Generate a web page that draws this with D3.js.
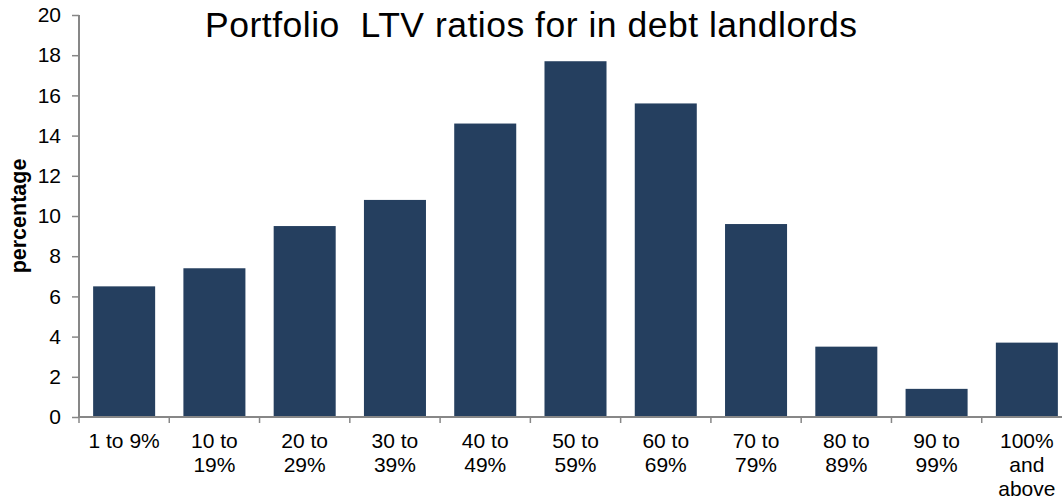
<!DOCTYPE html>
<html>
<head>
<meta charset="utf-8">
<script src="https://cdn.jsdelivr.net/npm/d3@7"></script>
<style>
  html, body { margin: 0; padding: 0; background: #fff; }
  svg { display: block; font-family: "Liberation Sans", Arial, sans-serif; }
</style>
</head>
<body>
<svg id="chart" width="1062" height="500"></svg>
<script>
// LTV bands and share of in-debt landlords in each (percent)
const categories = ["1 to 9%", "10 to 19%", "20 to 29%", "30 to 39%", "40 to 49%",
  "50 to 59%", "60 to 69%", "70 to 79%", "80 to 89%", "90 to 99%", "100% and above"];
const values = [6.5, 7.4, 9.5, 10.8, 14.6, 17.7, 15.6, 9.6, 3.5, 1.4, 3.7];
const tickLines = [["1 to 9%"], ["10 to", "19%"], ["20 to", "29%"], ["30 to", "39%"],
  ["40 to", "49%"], ["50 to", "59%"], ["60 to", "69%"], ["70 to", "79%"],
  ["80 to", "89%"], ["90 to", "99%"], ["100%", "and", "above"]];
const yTicks = [0, 2, 4, 6, 8, 10, 12, 14, 16, 18, 20];
const titleText = "Portfolio  LTV ratios for in debt landlords";
const yLabel = "percentage";

const svg = d3.select("#chart");
const plotLeft = 79, plotRight = 1072, plotTop = 15, plotBottom = 417;
const axisColor = "#878787";
const barColor = "#253f5f";
const tickFont = 21;

const x = d3.scaleBand().domain(categories).range([plotLeft, plotRight])
  .paddingInner(0.313).paddingOuter(0.1565);
const y = d3.scaleLinear().domain([0, 20]).range([plotBottom, plotTop]);

// bars
svg.append("g").selectAll("rect").data(values).join("rect")
  .attr("x", (d, i) => x(categories[i]))
  .attr("y", d => y(d))
  .attr("width", x.bandwidth())
  .attr("height", d => y(0) - y(d))
  .attr("fill", barColor);

// y axis
const yAxis = svg.append("g").attr("transform", `translate(${plotLeft},0)`)
  .call(d3.axisLeft(y).tickValues(yTicks).tickSize(7).tickPadding(11).tickFormat(d3.format("d")));
yAxis.select(".domain").attr("stroke", axisColor).attr("stroke-width", 2)
  .attr("d", `M0,${plotTop}V${plotBottom}`);
yAxis.selectAll(".tick line").attr("stroke", axisColor).attr("stroke-width", 1.5);
yAxis.selectAll(".tick text").attr("font-size", tickFont).attr("fill", "#000")
  .attr("font-family", "Liberation Sans, Arial, sans-serif");

// x axis: line, ticks between categories, and wrapped labels
const xg = svg.append("g");
xg.append("line").attr("x1", plotLeft).attr("x2", plotRight).attr("y1", y(0)).attr("y2", y(0))
  .attr("stroke", axisColor).attr("stroke-width", 2);
const gap = (x.step() - x.bandwidth()) / 2;
const bounds = categories.map(c => x(c) - gap).concat([plotRight]);
xg.selectAll("line.tk").data(bounds).join("line").attr("class", "tk")
  .attr("x1", d => d).attr("x2", d => d)
  .attr("y1", y(0)).attr("y2", y(0) + 6)
  .attr("stroke", axisColor).attr("stroke-width", 1.5);
const lbl = xg.selectAll("text.lb").data(categories).join("text").attr("class", "lb")
  .attr("x", d => x(d) + x.bandwidth() / 2)
  .attr("y", 448)
  .attr("text-anchor", "middle")
  .attr("font-size", tickFont)
  .attr("fill", "#000");
lbl.each(function(d, i) {
  const t = d3.select(this);
  tickLines[i].forEach((ln, j) => {
    t.append("tspan").attr("x", x(d) + x.bandwidth() / 2)
      .attr("dy", j === 0 ? 0 : 24).text(ln);
  });
});

// axis title
svg.append("text")
  .attr("transform", `translate(26,${(plotTop + plotBottom) / 2}) rotate(-90)`)
  .attr("text-anchor", "middle")
  .attr("font-size", 21.5).attr("font-weight", "bold").attr("fill", "#000")
  .text(yLabel);

// chart title
svg.append("text")
  .attr("x", 531).attr("y", 37)
  .attr("text-anchor", "middle")
  .attr("font-size", 35.5).attr("fill", "#000")
  .attr("textLength", 652).attr("lengthAdjust", "spacing")
  .style("white-space", "pre")
  .text(titleText);
</script>
</body>
</html>
